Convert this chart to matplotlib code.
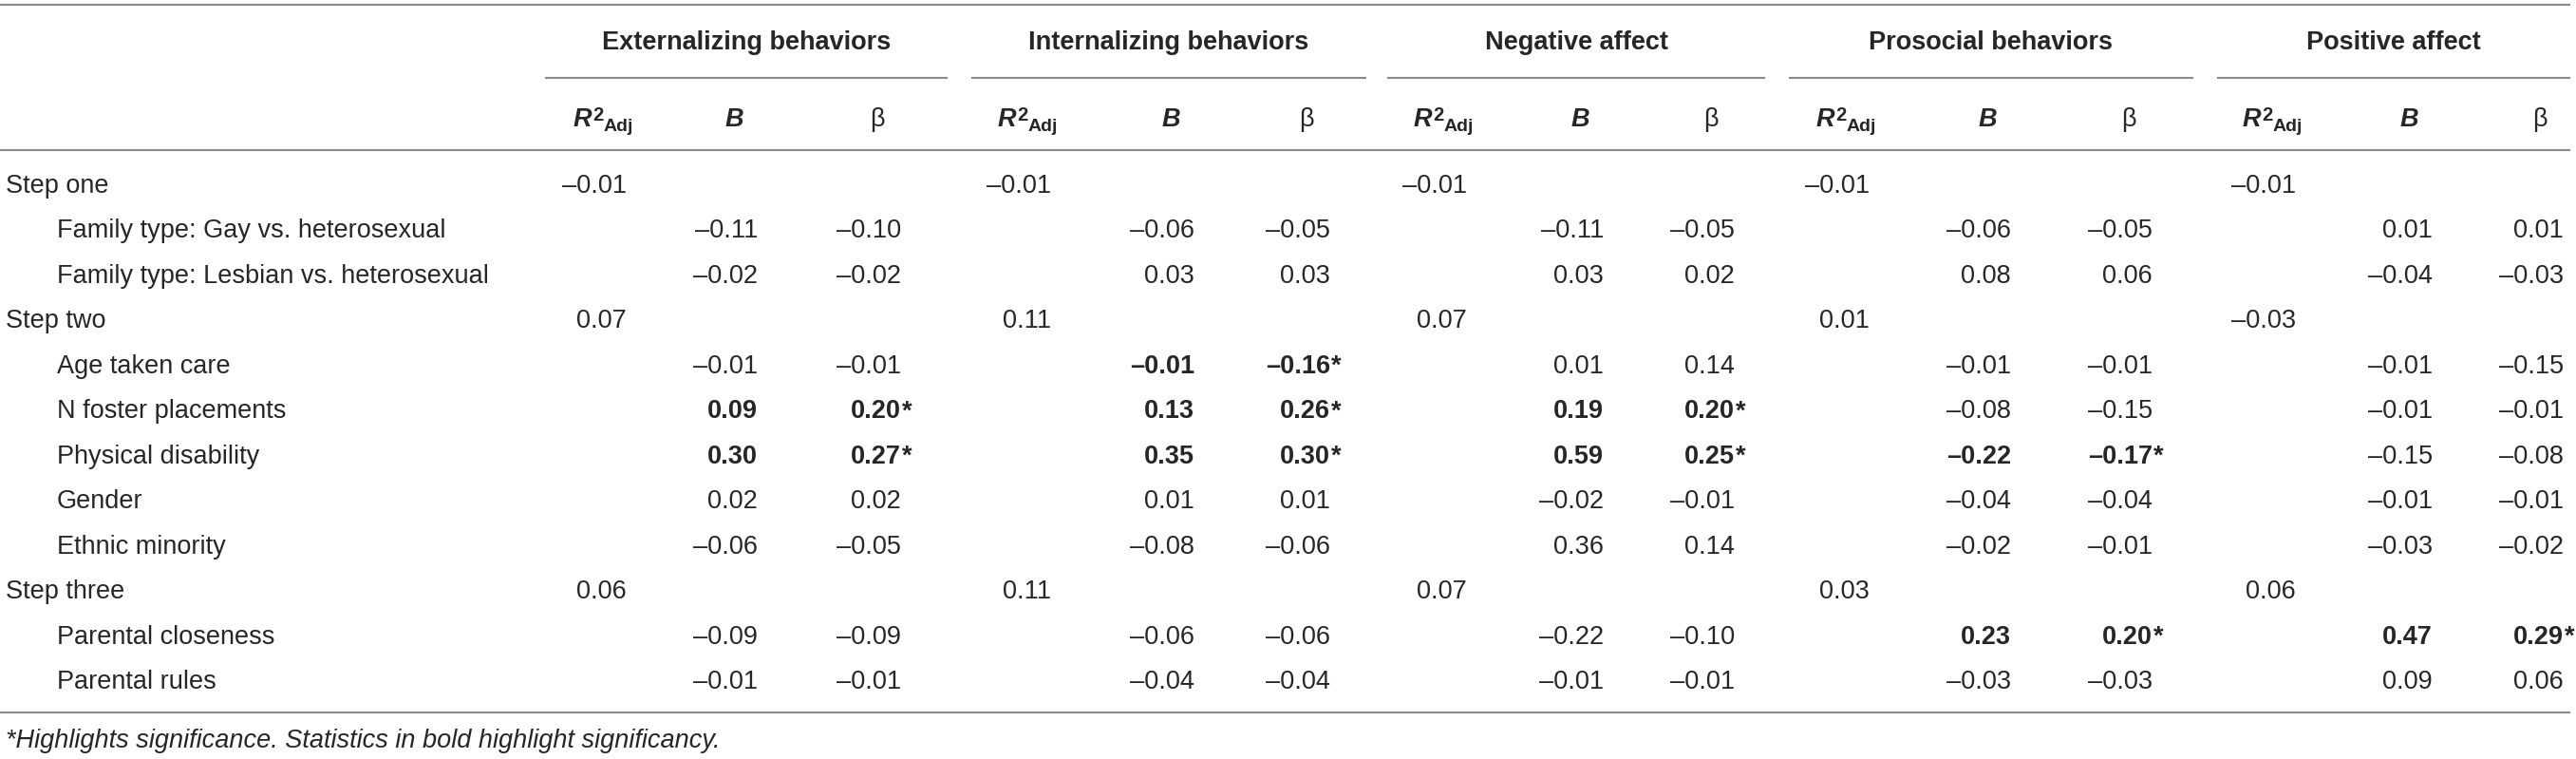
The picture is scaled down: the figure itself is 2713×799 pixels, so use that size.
import matplotlib
matplotlib.use('Agg')
import matplotlib.pyplot as plt

# ---------------- data ----------------
outcomes = ["Externalizing behaviors", "Internalizing behaviors", "Negative affect",
            "Prosocial behaviors", "Positive affect"]
steps = ["Step one", "Step two", "Step three"]
step_predictors = [
    ["Family type: Gay vs. heterosexual", "Family type: Lesbian vs. heterosexual"],
    ["Age taken care", "N foster placements", "Physical disability", "Gender", "Ethnic minority"],
    ["Parental closeness", "Parental rules"],
]
r2_ext = [-0.01, 0.07, 0.06]
r2_int = [-0.01, 0.11, 0.11]
r2_neg = [-0.01, 0.07, 0.07]
r2_pro = [-0.01, 0.01, 0.03]
r2_pos = [-0.01, -0.03, 0.06]

b_ext = [-0.11, -0.02, -0.01, 0.09, 0.30, 0.02, -0.06, -0.09, -0.01]
beta_ext = [-0.10, -0.02, -0.01, 0.20, 0.27, 0.02, -0.05, -0.09, -0.01]
b_int = [-0.06, 0.03, -0.01, 0.13, 0.35, 0.01, -0.08, -0.06, -0.04]
beta_int = [-0.05, 0.03, -0.16, 0.26, 0.30, 0.01, -0.06, -0.06, -0.04]
b_neg = [-0.11, 0.03, 0.01, 0.19, 0.59, -0.02, 0.36, -0.22, -0.01]
beta_neg = [-0.05, 0.02, 0.14, 0.20, 0.25, -0.01, 0.14, -0.10, -0.01]
b_pro = [-0.06, 0.08, -0.01, -0.08, -0.22, -0.04, -0.02, 0.23, -0.03]
beta_pro = [-0.05, 0.06, -0.01, -0.15, -0.17, -0.04, -0.01, 0.20, -0.03]
b_pos = [0.01, -0.04, -0.01, -0.01, -0.15, -0.01, -0.03, 0.47, 0.09]
beta_pos = [0.01, -0.03, -0.15, -0.01, -0.08, -0.01, -0.02, 0.29, 0.06]

sig_ext = ["N foster placements", "Physical disability"]
sig_int = ["Age taken care", "N foster placements", "Physical disability"]
sig_neg = ["N foster placements", "Physical disability"]
sig_pro = ["Physical disability", "Parental closeness"]
sig_pos = ["Parental closeness"]

footnote = "*Highlights significance. Statistics in bold highlight significancy."

r2_all = [r2_ext, r2_int, r2_neg, r2_pro, r2_pos]
b_all = [b_ext, b_int, b_neg, b_pro, b_pos]
beta_all = [beta_ext, beta_int, beta_neg, beta_pro, beta_pos]
sig_all = [sig_ext, sig_int, sig_neg, sig_pro, sig_pos]

# ---------------- layout ----------------
W, H = 2713, 799
FONT = "Liberation Sans"
FS = 19.5
TXT = "#262626"
RULE = "#8a8a8a"
group_spans = [(574, 998), (1023, 1439), (1461, 1859), (1884, 2310), (2335, 2707)]
col_right = [[660, 798, 949], [1107, 1258, 1401], [1545, 1689, 1827],
             [1969, 2118, 2267], [2418, 2562, 2700]]
row_y0, row_dy = 193, 47.45
base_off = 10

fig = plt.figure(figsize=(W / 100, H / 100), dpi=100)
ax = fig.add_axes([0, 0, 1, 1])
ax.set_xlim(0, W)
ax.set_ylim(H, 0)
ax.axis('off')


def fmt(v):
    s = f"{v:.2f}"
    return s.replace("-", "\u2013")


def hline(y, x0, x1):
    ax.plot([x0, x1], [y, y], color=RULE, lw=1.5, solid_capstyle='butt')


# rules
hline(5, 0, 2707)
hline(158, 0, 2707)
hline(750, 0, 2707)
for (x0, x1) in group_spans:
    hline(82, x0, x1)

# group headers
for (x0, x1), name in zip(group_spans, outcomes):
    ax.text((x0 + x1) / 2, 52, name, ha='center', va='baseline', fontsize=FS,
            fontweight='bold', family=FONT, color=TXT)

# sub headers
fig.canvas.draw()
renderer = fig.canvas.get_renderer()
for g in range(5):
    cr = col_right[g]
    # R^2_Adj
    cx = cr[0] - 25
    tR = ax.text(0, 133, "R", ha='left', va='baseline', fontsize=FS, fontweight='bold',
                 style='italic', family=FONT, color=TXT)
    t2 = ax.text(0, 127, "2", ha='left', va='baseline', fontsize=14.5, fontweight='bold',
                 family=FONT, color=TXT)
    tA = ax.text(0, 138, "Adj", ha='left', va='baseline', fontsize=14, fontweight='bold',
                 family=FONT, color=TXT)
    wR = tR.get_window_extent(renderer).width
    w2 = t2.get_window_extent(renderer).width
    wA = tA.get_window_extent(renderer).width
    total = wR + 1 + max(w2, 0) + wA
    x0 = cx - total / 2
    tR.set_x(x0)
    t2.set_x(x0 + wR + 1)
    tA.set_x(x0 + wR + 1 + w2)
    ax.text(cr[1] - 25, 133, "B", ha='center', va='baseline', fontsize=FS, fontweight='bold',
            style='italic', family=FONT, color=TXT)
    ax.text(cr[2] - 25, 133, "\u03b2", ha='center', va='baseline', fontsize=FS,
            family=FONT, color=TXT)

# body
row = 0
pidx = 0
for s, step in enumerate(steps):
    y = row_y0 + row * row_dy + base_off
    ax.text(6, y, step, ha='left', va='baseline', fontsize=FS, family=FONT, color=TXT)
    for g in range(5):
        ax.text(col_right[g][0], y, fmt(r2_all[g][s]), ha='right', va='baseline',
                fontsize=FS, family=FONT, color=TXT)
    row += 1
    for pred in step_predictors[s]:
        y = row_y0 + row * row_dy + base_off
        ax.text(60, y, pred, ha='left', va='baseline', fontsize=FS, family=FONT, color=TXT)
        for g in range(5):
            sig = pred in sig_all[g]
            fw = 'bold' if sig else 'normal'
            ax.text(col_right[g][1], y, fmt(b_all[g][pidx]), ha='right', va='baseline',
                    fontsize=FS, fontweight=fw, family=FONT, color=TXT)
            ax.text(col_right[g][2], y, fmt(beta_all[g][pidx]), ha='right', va='baseline',
                    fontsize=FS, fontweight=fw, family=FONT, color=TXT)
            if sig:
                ax.text(col_right[g][2] + 0.5, y, "*", ha='left', va='baseline',
                        fontsize=FS, fontweight='bold', family=FONT, color=TXT)
        row += 1
        pidx += 1

ax.text(6, 787, footnote, ha='left', va='baseline', fontsize=FS, style='italic',
        family=FONT, color=TXT)

fig.savefig("out.png", dpi=100)
